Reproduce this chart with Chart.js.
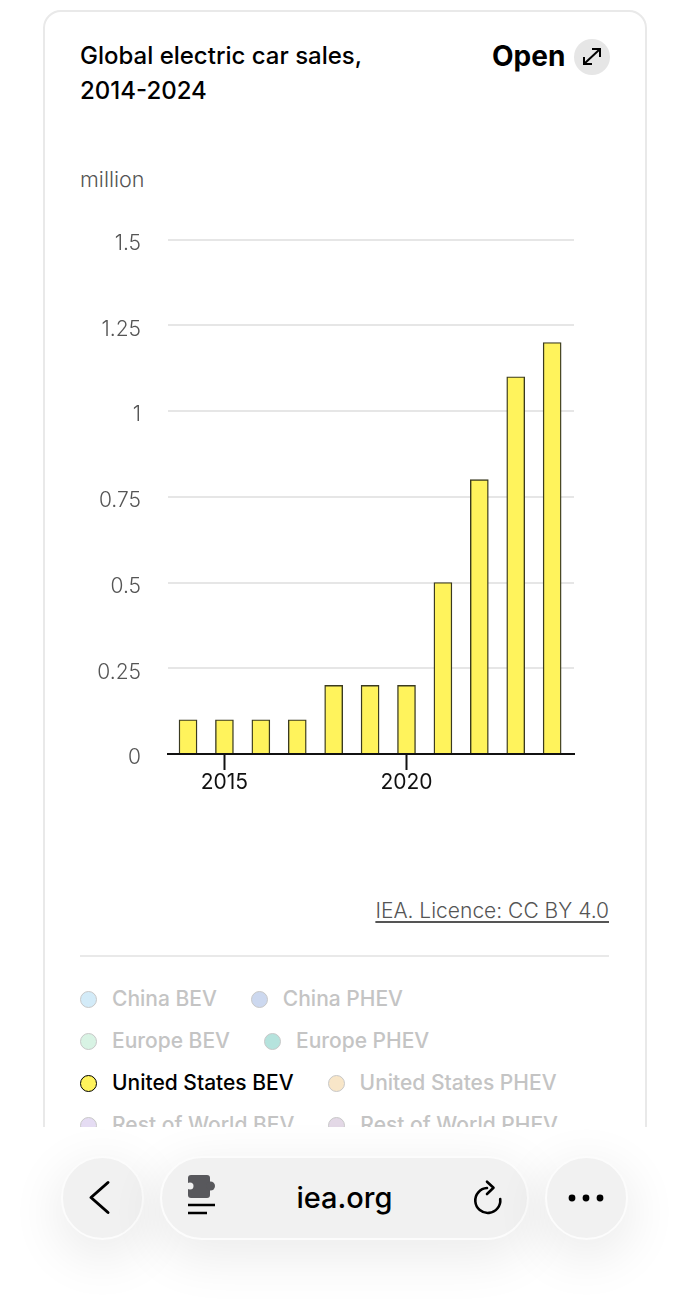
<!DOCTYPE html>
<html lang="en">
<head>
<meta charset="utf-8">
<title>Global electric car sales, 2014-2024</title>
<script src="https://cdn.jsdelivr.net/npm/chart.js@4"></script>
<style>
  html, body { margin: 0; padding: 0; background: #fff; }
  body { width: 689px; height: 1300px; position: relative; overflow: hidden; font-family: Inter, "Noto Sans", sans-serif; color: #000; }
  .card { position: absolute; left: 43px; top: 10px; width: 600px; height: 1300px; border: 2px solid #e9e9e9; border-radius: 18px; box-sizing: content-box; }
  .title { position: absolute; left: 80px; top: 38px; font-size: 24px; line-height: 35px; font-weight: 500; }
  .open { position: absolute; left: 492px; top: 38px; font-size: 28px; line-height: 37px; font-weight: 700; }
  .open-btn { position: absolute; left: 574px; top: 39px; width: 36px; height: 36px; border-radius: 50%; background: #e6e6e6; }
  .unit { position: absolute; left: 80px; top: 166px; font-size: 21.6px; line-height: 26px; font-weight: 300; color: #555; }
  .chart-box { position: absolute; left: 80px; top: 200px; width: 500px; height: 600px; }
  .licence { position: absolute; right: 80px; top: 897px; font-size: 21px; line-height: 27px; font-weight: 300; color: #555; text-decoration: underline; text-underline-offset: 3px; }
  .rule { position: absolute; left: 80px; top: 955px; width: 529px; height: 2px; background: #e9e9e9; }
  .legend-row { position: absolute; left: 80px; display: flex; align-items: center; height: 30px; font-size: 21px; font-weight: 500; color: #c4c4c4; }
  .legend-item { display: flex; align-items: center; margin-right: 34px; white-space: nowrap; }
  .legend-item.on { color: #000; }
  .dot { width: 15px; height: 15px; border-radius: 50%; border: 1px solid #c8c8c8; margin-right: 15px; margin-top: 2px; }
  .legend-item.on .dot { border-color: #000; }
  .mask { position: absolute; left: 0; top: 1127px; width: 689px; height: 173px; background: #fff; }
  .pill { position: absolute; top: 1156px; height: 80px; background: #f1f1f1; border: 2px solid #fcfcfc; border-radius: 42px; box-shadow: 0 14px 50px 6px rgba(0,0,0,.075); }
  .url { position: absolute; left: 160px; width: 369px; top: 1179px; text-align: center; font-size: 29px; line-height: 38px; font-weight: 500; color: #000; }
  svg.icon { position: absolute; overflow: visible; }
</style>
</head>
<body>
<div class="card"></div>
<div class="title">Global electric car sales,<br>2014-2024</div>
<div class="open">Open</div>
<div class="open-btn"></div>
<div class="unit">million</div>
<div class="chart-box"><canvas id="sales"></canvas></div>
<div class="licence">IEA. Licence: CC BY 4.0</div>
<div class="rule"></div>
<div id="legend"></div>

<div class="mask"></div>
<div class="pill" style="left:61px;width:79px"></div>
<div class="pill" style="left:160px;width:365px"></div>
<div class="pill" style="left:545px;width:79px"></div>
<div class="url">iea.org</div>
<svg class="icon" style="left:0;top:0" width="689" height="1300" fill="none" stroke="#000">
  <!-- expand arrows -->
  <path d="M584.5 63.5 L599.5 49.5 M592 49 H600 V57 M584 57 V64 H592" stroke-width="2"/>
  <!-- back chevron -->
  <path d="M108 1182.5 L91 1197.5 L108 1212.5" stroke-width="3" stroke-linecap="round" stroke-linejoin="round"/>
  <!-- reader icon -->
  <rect x="188" y="1175" width="22" height="23" rx="3" fill="#58585c" stroke="none"/>
  <circle cx="210.5" cy="1186" r="4.5" fill="#58585c" stroke="none"/>
  <circle cx="190" cy="1186" r="3.5" fill="#f1f1f1" stroke="none"/>
  <path d="M188 1205 H215 M188 1213 H207" stroke-width="2.6"/>
  <!-- reload -->
  <path d="M487 1188 A12.5 12.5 0 1 0 500.2 1199 M487 1181.7 L493.5 1187.8 L487 1194" stroke-width="2.6" stroke-linecap="round" stroke-linejoin="round"/>
  <!-- more -->
  <g fill="#000" stroke="none"><circle cx="572" cy="1198" r="3.4"/><circle cx="586" cy="1198" r="3.4"/><circle cx="600" cy="1198" r="3.4"/></g>
</svg>

<script>
// Annual sales in million vehicles, United States BEV
const years = [2014, 2015, 2016, 2017, 2018, 2019, 2020, 2021, 2022, 2023, 2024];
const usBev = [0.1, 0.1, 0.1, 0.1, 0.2, 0.2, 0.2, 0.5, 0.8, 1.1, 1.2];
const yTicks = [0, 0.25, 0.5, 0.75, 1, 1.25, 1.5];
const yTickLabels = ['0', '0.25', '0.5', '0.75', '1', '1.25', '1.5'];
const xTicks = [2015, 2020];

const legendRows = [
  ['China BEV', 'China PHEV'],
  ['Europe BEV', 'Europe PHEV'],
  ['United States BEV', 'United States PHEV'],
  ['Rest of World BEV', 'Rest of World PHEV']
];
const legendColours = [
  ['#d3ebf8', '#ccd8ef'],
  ['#d8f3e4', '#b5e3dd'],
  ['#fff35c', '#f8e6c8'],
  ['#e5dcf3', '#e3d8e6']
];
const activeSeries = 'United States BEV';
const legendTops = [983, 1025, 1067, 1109];

// Series key, built from the same names the legend shows
const legendHost = document.getElementById('legend');
legendRows.forEach((row, r) => {
  const rowEl = document.createElement('div');
  rowEl.className = 'legend-row';
  rowEl.style.top = legendTops[r] + 'px';
  row.forEach((name, c) => {
    const item = document.createElement('div');
    item.className = 'legend-item' + (name === activeSeries ? ' on' : '');
    const dot = document.createElement('span');
    dot.className = 'dot';
    dot.style.background = legendColours[r][c];
    item.appendChild(dot);
    item.appendChild(document.createTextNode(name));
    rowEl.appendChild(item);
  });
  legendHost.appendChild(rowEl);
});

new Chart(document.getElementById('sales'), {
  type: 'bar',
  data: {
    datasets: [{
      label: activeSeries,
      data: years.map((y, i) => ({ x: y, y: usBev[i] })),
      backgroundColor: '#fff35c',
      borderColor: '#3a3a20',
      borderWidth: 1.4,
      barThickness: 18
    }]
  },
  options: {
    responsive: true,
    maintainAspectRatio: false,
    animation: false,
    layout: { padding: { top: 20, right: 6, left: 0, bottom: 0 } },
    plugins: { legend: { display: false }, tooltip: { enabled: false } },
    scales: {
      x: {
        type: 'linear',
        offset: false,
        min: 2013.45,
        max: 2024.6,
        afterBuildTicks: axis => { axis.ticks = xTicks.map(value => ({ value })); },
        afterFit: axis => { axis.height = 46; },
        grid: { offset: false, drawOnChartArea: false, drawTicks: true, tickLength: 16, tickColor: '#111', tickWidth: 2 },
        border: { color: '#111', width: 2 },
        ticks: {
          autoSkip: false, maxRotation: 0, padding: 0,
          color: '#111',
          font: { family: 'Inter', size: 21, weight: 400 },
          callback: v => String(v)
        }
      },
      y: {
        min: 0,
        max: 1.5,
        afterBuildTicks: axis => { axis.ticks = yTicks.map(value => ({ value })); },
        afterFit: axis => { axis.width = 88; },
        grid: { color: '#e6e6e6', lineWidth: 2, drawTicks: false },
        border: { display: false },
        ticks: {
          autoSkip: false, padding: 27, labelOffset: 4,
          color: '#555',
          font: { family: 'Inter', size: 21, weight: 300 },
          callback: v => yTickLabels[yTicks.indexOf(v)]
        }
      }
    }
  }
});
</script>
</body>
</html>
